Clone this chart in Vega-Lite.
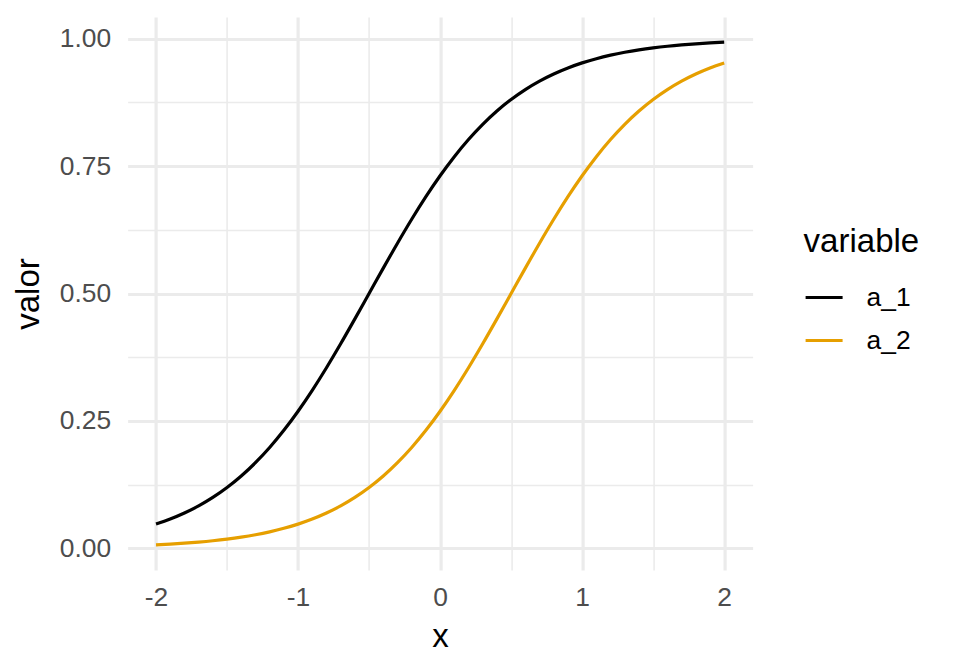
{
  "$schema": "https://vega.github.io/schema/vega-lite/v6.json",
  "autosize": {"type": "none"},
  "padding": {"left": 127.6, "top": 17, "right": 207.4, "bottom": 102},
  "width": 625,
  "height": 553,
  "background": "white",
  "config": {
    "view": {"stroke": null},
    "font": "Liberation Sans"
  },
  "data": {"values": [
    {"x": -2.0, "valor": 0.04743, "variable": "a_1"},
    {"x": -1.9, "valor": 0.05732, "variable": "a_1"},
    {"x": -1.8, "valor": 0.06914, "variable": "a_1"},
    {"x": -1.7, "valor": 0.08317, "variable": "a_1"},
    {"x": -1.6, "valor": 0.09975, "variable": "a_1"},
    {"x": -1.5, "valor": 0.11920, "variable": "a_1"},
    {"x": -1.4, "valor": 0.14185, "variable": "a_1"},
    {"x": -1.3, "valor": 0.16798, "variable": "a_1"},
    {"x": -1.2, "valor": 0.19782, "variable": "a_1"},
    {"x": -1.1, "valor": 0.23148, "variable": "a_1"},
    {"x": -1.0, "valor": 0.26894, "variable": "a_1"},
    {"x": -0.9, "valor": 0.31003, "variable": "a_1"},
    {"x": -0.8, "valor": 0.35434, "variable": "a_1"},
    {"x": -0.7, "valor": 0.40131, "variable": "a_1"},
    {"x": -0.6, "valor": 0.45017, "variable": "a_1"},
    {"x": -0.5, "valor": 0.50000, "variable": "a_1"},
    {"x": -0.4, "valor": 0.54983, "variable": "a_1"},
    {"x": -0.3, "valor": 0.59869, "variable": "a_1"},
    {"x": -0.2, "valor": 0.64566, "variable": "a_1"},
    {"x": -0.1, "valor": 0.68997, "variable": "a_1"},
    {"x": 0.0, "valor": 0.73106, "variable": "a_1"},
    {"x": 0.1, "valor": 0.76852, "variable": "a_1"},
    {"x": 0.2, "valor": 0.80218, "variable": "a_1"},
    {"x": 0.3, "valor": 0.83202, "variable": "a_1"},
    {"x": 0.4, "valor": 0.85815, "variable": "a_1"},
    {"x": 0.5, "valor": 0.88080, "variable": "a_1"},
    {"x": 0.6, "valor": 0.90025, "variable": "a_1"},
    {"x": 0.7, "valor": 0.91683, "variable": "a_1"},
    {"x": 0.8, "valor": 0.93086, "variable": "a_1"},
    {"x": 0.9, "valor": 0.94268, "variable": "a_1"},
    {"x": 1.0, "valor": 0.95257, "variable": "a_1"},
    {"x": 1.1, "valor": 0.96084, "variable": "a_1"},
    {"x": 1.2, "valor": 0.96770, "variable": "a_1"},
    {"x": 1.3, "valor": 0.97340, "variable": "a_1"},
    {"x": 1.4, "valor": 0.97812, "variable": "a_1"},
    {"x": 1.5, "valor": 0.98201, "variable": "a_1"},
    {"x": 1.6, "valor": 0.98523, "variable": "a_1"},
    {"x": 1.7, "valor": 0.98787, "variable": "a_1"},
    {"x": 1.8, "valor": 0.99005, "variable": "a_1"},
    {"x": 1.9, "valor": 0.99184, "variable": "a_1"},
    {"x": 2.0, "valor": 0.99331, "variable": "a_1"},
    {"x": -2.0, "valor": 0.00669, "variable": "a_2"},
    {"x": -1.9, "valor": 0.00816, "variable": "a_2"},
    {"x": -1.8, "valor": 0.00995, "variable": "a_2"},
    {"x": -1.7, "valor": 0.01213, "variable": "a_2"},
    {"x": -1.6, "valor": 0.01477, "variable": "a_2"},
    {"x": -1.5, "valor": 0.01799, "variable": "a_2"},
    {"x": -1.4, "valor": 0.02188, "variable": "a_2"},
    {"x": -1.3, "valor": 0.02660, "variable": "a_2"},
    {"x": -1.2, "valor": 0.03230, "variable": "a_2"},
    {"x": -1.1, "valor": 0.03916, "variable": "a_2"},
    {"x": -1.0, "valor": 0.04743, "variable": "a_2"},
    {"x": -0.9, "valor": 0.05732, "variable": "a_2"},
    {"x": -0.8, "valor": 0.06914, "variable": "a_2"},
    {"x": -0.7, "valor": 0.08317, "variable": "a_2"},
    {"x": -0.6, "valor": 0.09975, "variable": "a_2"},
    {"x": -0.5, "valor": 0.11920, "variable": "a_2"},
    {"x": -0.4, "valor": 0.14185, "variable": "a_2"},
    {"x": -0.3, "valor": 0.16798, "variable": "a_2"},
    {"x": -0.2, "valor": 0.19782, "variable": "a_2"},
    {"x": -0.1, "valor": 0.23148, "variable": "a_2"},
    {"x": 0.0, "valor": 0.26894, "variable": "a_2"},
    {"x": 0.1, "valor": 0.31003, "variable": "a_2"},
    {"x": 0.2, "valor": 0.35434, "variable": "a_2"},
    {"x": 0.3, "valor": 0.40131, "variable": "a_2"},
    {"x": 0.4, "valor": 0.45017, "variable": "a_2"},
    {"x": 0.5, "valor": 0.50000, "variable": "a_2"},
    {"x": 0.6, "valor": 0.54983, "variable": "a_2"},
    {"x": 0.7, "valor": 0.59869, "variable": "a_2"},
    {"x": 0.8, "valor": 0.64566, "variable": "a_2"},
    {"x": 0.9, "valor": 0.68997, "variable": "a_2"},
    {"x": 1.0, "valor": 0.73106, "variable": "a_2"},
    {"x": 1.1, "valor": 0.76852, "variable": "a_2"},
    {"x": 1.2, "valor": 0.80218, "variable": "a_2"},
    {"x": 1.3, "valor": 0.83202, "variable": "a_2"},
    {"x": 1.4, "valor": 0.85815, "variable": "a_2"},
    {"x": 1.5, "valor": 0.88080, "variable": "a_2"},
    {"x": 1.6, "valor": 0.90025, "variable": "a_2"},
    {"x": 1.7, "valor": 0.91683, "variable": "a_2"},
    {"x": 1.8, "valor": 0.93086, "variable": "a_2"},
    {"x": 1.9, "valor": 0.94268, "variable": "a_2"},
    {"x": 2.0, "valor": 0.95257, "variable": "a_2"}
  ]},
  "mark": {"type": "line", "strokeWidth": 3.2, "interpolate": "monotone"},
  "encoding": {
    "x": {
      "field": "x", "type": "quantitative",
      "scale": {"domain": [-2.2, 2.2], "nice": false, "zero": false},
      "axis": {
        "values": [-2, -1.5, -1, -0.5, 0, 0.5, 1, 1.5, 2],
        "labelExpr": "datum.value % 1 === 0 ? '' + datum.value : ''",
        "domain": false, "ticks": false,
        "grid": true, "gridColor": "#ebebeb",
        "gridWidth": {"condition": {"test": "datum.value % 1 === 0", "value": 3.2}, "value": 1.6},
        "labelFontSize": 26.4, "labelColor": "#4d4d4d", "labelPadding": 14,
        "labelOverlap": false, "labelBound": false, "labelFlush": false,
        "title": "x", "titleFontSize": 33, "titleFontWeight": "normal", "titleColor": "black",
        "titlePadding": 10
      }
    },
    "y": {
      "field": "valor", "type": "quantitative",
      "scale": {"domain": [-0.04264, 1.04264], "nice": false, "zero": false},
      "axis": {
        "values": [0, 0.125, 0.25, 0.375, 0.5, 0.625, 0.75, 0.875, 1],
        "labelExpr": "(datum.value * 4) % 1 === 0 ? format(datum.value, '.2f') : ''",
        "domain": false, "ticks": false,
        "grid": true, "gridColor": "#ebebeb",
        "gridWidth": {"condition": {"test": "(datum.value * 4) % 1 === 0", "value": 3.2}, "value": 1.6},
        "labelFontSize": 26.4, "labelColor": "#4d4d4d", "labelPadding": 17,
        "labelOverlap": false, "labelBound": false, "labelFlush": false,
        "title": "valor", "titleFontSize": 33, "titleFontWeight": "normal", "titleColor": "black",
        "titlePadding": 14
      }
    },
    "color": {
      "field": "variable", "type": "nominal",
      "scale": {"domain": ["a_1", "a_2"], "range": ["#000000", "#E69F00"]},
      "legend": {
        "orient": "none", "legendX": 676, "legendY": 209,
        "padding": 0,
        "title": "variable", "titleFontSize": 33, "titleFontWeight": "normal", "titleColor": "black",
        "titlePadding": 18,
        "symbolType": "stroke", "symbolSize": 1369, "symbolStrokeWidth": 3.2,
        "labelFontSize": 26.4, "labelColor": "black", "labelOffset": 22,
        "rowPadding": 9
      }
    }
  }
}
